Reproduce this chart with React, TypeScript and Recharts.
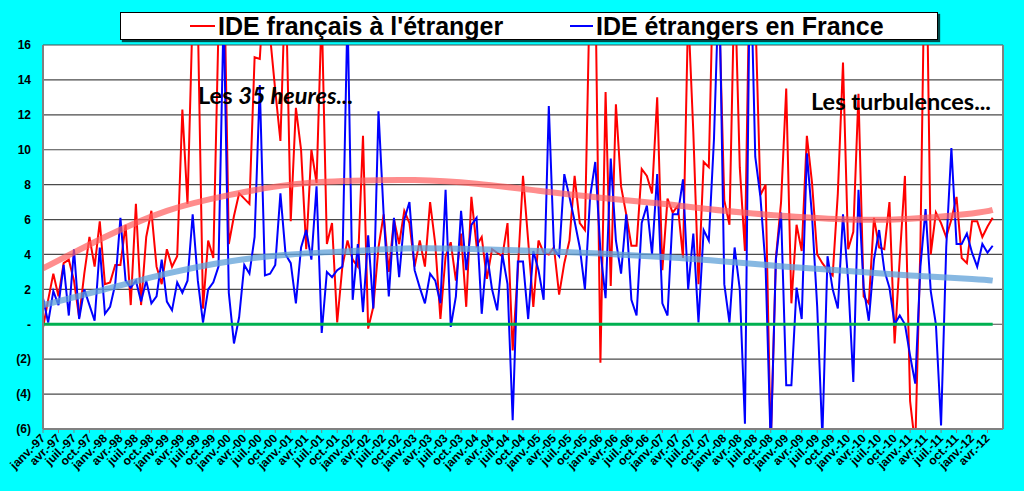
import React from 'react';
import { LineChart, Line, XAxis, YAxis, CartesianGrid, ReferenceLine } from 'recharts';

// monthly values, janv.-97 .. mai-12 (index 0 = janv.-97)
const IDE_FR_ETRANGER = [
  -0.2, 1.4, 2.9, 1.6, 3.5, 3.7, 2.5, 0.4, 2.9, 5.0, 3.3, 5.9,
  2.3, 2.4, 3.4, 3.4, 5.7, 1.1, 6.9, 1.1, 5.0, 6.5, 3.3, 2.3,
  4.3, 3.3, 3.9, 12.3, 6.9, 18, 17.5, 0.9, 4.8, 3.8, 17, 22,
  4.6, 6.2, 7.5, 7.2, 6.9, 15.3, 15.2, 20, 16.5, 13.4, 10.5, 20,
  5.9, 12.4, 10.0, 4.3, 10.0, 8.1, 18, 4.6, 5.8, 0.1, 3.3, 4.8,
  3.7, 3.3, 10.8, -0.25, 1.0, 4.4, 6.3, 3.0, 6.0, 4.6, 6.5, 5.8,
  3.3, 4.8, 3.3, 7.0, 4.6, 0.3, 3.9, 4.7, 2.5, 5.2, 1.0, 7.3,
  4.5, 5.0, 2.6, 4.3, 4.1, 3.9, 5.8, -1.5, 3.1, 8.5, 4.8, 1.0,
  4.8, 4.1, 4.0, 4.4, 1.7, 3.5, 4.8, 8.5, 5.8, 5.4, 20, 20,
  -2.2, 13.3, 2.2, 12.6, 7.9, 6.3, 4.5, 4.5, 8.9, 8.5, 7.5, 13.0,
  3.1, 7.2, 6.4, 6.8, 3.8, 18, 11, 2.3, 9.3, 9.0, 22, 18,
  7.1, 5.7, 20, 9, 4.2, 22, 18, 7.4, 8.0, -7, 3.8, 7.0,
  13.5, 1.2, 5.7, 4.2, 10.8, 8.1, 4.0, 3.5, 3.1, 2.8, 7.5, 15.0,
  4.3, 5.3, 13.2, 1.6, 1.2, 6.1, 4.4, 4.3, 7.0, -1.1, 3.8, 8.5,
  -4.4, -7, 4.5, 25, 4.0, 6.4, 5.8, 5.0, 6.0, 7.3, 3.8, 3.5,
  5.9, 5.9, 5.0, 5.6, 6.1,
];

const IDE_ETR_FRANCE = [
  1.5, 0.1, 1.9, 1.1, 3.4, 0.5, 4.3, 0.3, 2.0, 1.1, 0.2, 4.4,
  0.6, 1.0, 2.3, 6.1, 2.5, 2.1, 2.5, 1.3, 2.5, 1.2, 1.6, 3.7,
  1.3, 0.8, 2.4, 1.8, 2.5, 6.3, 2.5, 0.1, 2.0, 2.4, 3.3, 18,
  1.8, -1.1, 0.4, 3.4, 2.9, 5.0, 13.7, 2.8, 2.9, 3.4, 7.5, 4.0,
  3.5, 1.2, 4.4, 5.4, 3.7, 7.9, -0.5, 3.0, 2.7, 3.1, 3.3, 18,
  1.4, 4.6, 0.7, 5.1, 0.9, 12.2, 6.3, 1.6, 6.1, 2.7, 6.0, 7.0,
  3.1, 2.1, 1.2, 2.9, 2.5, 1.2, 7.7, -0.15, 1.6, 6.5, 3.1, 5.7,
  6.1, 0.6, 4.1, 2.0, 0.8, 4.0, 2.3, -5.5, 3.6, 3.6, 0.3, 4.2,
  3.1, 1.4, 12.5, 4.3, 3.9, 8.6, 7.3, 5.9, 4.4, 2.0, 7.3, 9.3,
  4.2, 1.5, 9.5, 4.8, 2.9, 6.3, 1.4, 0.5, 5.8, 6.8, 4.0, 8.6,
  1.2, 0.5, 6.3, 6.3, 8.3, 2.0, 5.2, 0.1, 5.4, 4.8, 10.6, 20,
  2.3, 0.1, 4.4, 2.0, -5.7, 22, 9.6, 7.3, 3.3, -7, 3.7, 6.4,
  -3.5, -3.5, 2.1, 0.3, 9.8, 6.2, 1.0, -6.5, 3.9, 2.0, 0.9, 6.3,
  2.5, -3.3, 7.7, 2.1, 0.2, 3.7, 5.4, 3.1, 2.1, 0.0, 0.5, 0.0,
  -1.8, -3.4, 3.3, 6.6, 1.9, 0.0, -5.8, 4.4, 10.1, 4.6, 4.6, 5.2,
  4.1, 3.3, 4.6, 4.1, 4.5,
];

// trend curves, read at the start of each year
const TREND_MONTHS = [0, 12, 24, 36, 48, 60, 72, 84, 96, 108, 120, 132, 144, 156, 168, 180, 184];
const FR_TREND = [3.2, 5.0, 6.5, 7.4, 8.0, 8.22, 8.26, 8.05, 7.65, 7.25, 6.9, 6.5, 6.2, 6.0, 6.05, 6.35, 6.55];
const ETR_TREND = [1.1, 2.0, 2.9, 3.6, 4.0, 4.2, 4.35, 4.3, 4.2, 4.05, 3.85, 3.6, 3.3, 3.05, 2.8, 2.6, 2.5];

const X_TICK_LABELS = [
  'janv.-97', 'avr.-97', 'juil.-97', 'oct.-97', 'janv.-98', 'avr.-98', 'juil.-98', 'oct.-98',
  'janv.-99', 'avr.-99', 'juil.-99', 'oct.-99', 'janv.-00', 'avr.-00', 'juil.-00', 'oct.-00',
  'janv.-01', 'avr.-01', 'juil.-01', 'oct.-01', 'janv.-02', 'avr.-02', 'juil.-02', 'oct.-02',
  'janv.-03', 'avr.-03', 'juil.-03', 'oct.-03', 'janv.-04', 'avr.-04', 'juil.-04', 'oct.-04',
  'janv.-05', 'avr.-05', 'juil.-05', 'oct.-05', 'janv.-06', 'avr.-06', 'juil.-06', 'oct.-06',
  'janv.-07', 'avr.-07', 'juil.-07', 'oct.-07', 'janv.-08', 'avr.-08', 'juil.-08', 'oct.-08',
  'janv.-09', 'avr.-09', 'juil.-09', 'oct.-09', 'janv.-10', 'avr.-10', 'juil.-10', 'oct.-10',
  'janv.-11', 'avr.-11', 'juil.-11', 'oct.-11', 'janv.-12', 'avr.-12',
];
const X_TICKS = X_TICK_LABELS.map((_, k) => k * 3);

const Y_TICKS = [-6, -4, -2, 0, 2, 4, 6, 8, 10, 12, 14, 16];
const Y_TICK_LABELS = ['(6)', '(4)', '(2)', '-', '2', '4', '6', '8', '10', '12', '14', '16'];

const data = IDE_FR_ETRANGER.map((fr, i) => {
  const t = TREND_MONTHS.indexOf(i);
  return {
    i,
    fr,
    etr: IDE_ETR_FRANCE[i],
    frTrend: t >= 0 ? FR_TREND[t] : null,
    etrTrend: t >= 0 ? ETR_TREND[t] : null,
  };
});

const AXIS_FONT = '"Liberation Sans", Arial, sans-serif';
const NOTE_FONT = 'Lato, "Open Sans", sans-serif';

const XTick = (props: any) => {
  const { x, y, payload } = props;
  const label = X_TICK_LABELS[Math.round(payload.value / 3)];
  return (
    <text
      x={x + 3}
      y={y + 4}
      transform={`rotate(-45 ${x + 3} ${y + 4})`}
      textAnchor="end"
      fontSize={12}
      fontWeight="bold"
      fontFamily={AXIS_FONT}
      fill="#000"
    >
      {label}
    </text>
  );
};

const legendText: React.CSSProperties = {
  position: 'absolute',
  top: 12,
  height: 28,
  display: 'flex',
  alignItems: 'center',
  fontFamily: AXIS_FONT,
  fontWeight: 'bold',
  fontSize: 25,
  color: '#000',
  whiteSpace: 'nowrap',
};

const noteText: React.CSSProperties = {
  position: 'absolute',
  fontFamily: NOTE_FONT,
  fontWeight: 'bold',
  fontSize: 23.5,
  color: '#000',
  whiteSpace: 'nowrap',
};

export default function App() {
  return (
    <div style={{ position: 'fixed', left: 0, top: 0, width: 1024, height: 491, background: '#00FFFF', overflow: 'hidden' }}>
      <LineChart width={1024} height={491} data={data} margin={{ top: 45, right: 21, bottom: 0, left: 0 }}>
        <CartesianGrid vertical={false} stroke="#4a4a4a" strokeWidth={1.2} fill="#FFFFFF" fillOpacity={1} />
        <XAxis
          dataKey="i"
          type="number"
          domain={[0, 186]}
          ticks={X_TICKS}
          interval={0}
          height={62}
          tick={<XTick />}
          tickSize={4}
          tickMargin={2}
          stroke="#808080"
          axisLine={{ stroke: '#808080', strokeWidth: 2 }}
          tickLine={{ stroke: '#808080' }}
          allowDataOverflow
        />
        <YAxis
          domain={[-6, 16]}
          ticks={Y_TICKS}
          interval={0}
          width={43}
          allowDataOverflow
          tickLine={false}
          tickSize={6}
          tickMargin={6}
          axisLine={{ stroke: '#808080', strokeWidth: 2 }}
          tickFormatter={(v: number) => Y_TICK_LABELS[Y_TICKS.indexOf(v)]}
          tick={{ fontSize: 12, fontWeight: 'bold', fill: '#000', fontFamily: AXIS_FONT }}
        />
        <ReferenceLine x={186} stroke="#808080" strokeWidth={2} />
        <Line dataKey="fr" stroke="#FF0000" strokeWidth={2} dot={false} isAnimationActive={false} />
        <Line dataKey="etr" stroke="#0000FF" strokeWidth={2} dot={false} isAnimationActive={false} />
        <Line
          dataKey="frTrend"
          type="natural"
          connectNulls
          stroke="#FF5C5C"
          strokeOpacity={0.7}
          strokeWidth={6}
          dot={false}
          isAnimationActive={false}
        />
        <Line
          dataKey="etrTrend"
          type="natural"
          connectNulls
          stroke="#5FA0D8"
          strokeOpacity={0.75}
          strokeWidth={6}
          dot={false}
          isAnimationActive={false}
        />
        <ReferenceLine
          segment={[{ x: 0, y: 0 }, { x: 184, y: 0 }]}
          stroke="#00B050"
          strokeWidth={3}
        />
      </LineChart>

      {/* legend */}
      <div
        style={{
          position: 'absolute',
          left: 120,
          top: 12,
          width: 818,
          height: 28,
          background: '#fff',
          border: '1px solid #000',
          boxShadow: '2px 2px 1px rgba(0,0,0,0.7)',
          boxSizing: 'border-box',
        }}
      />
      <div style={{ ...legendText, left: 190 }}>
        <span style={{ display: 'inline-block', width: 25, height: 2, background: '#FF0000', marginRight: 3 }} />
        IDE français à l'étranger
      </div>
      <div style={{ ...legendText, left: 570 }}>
        <span style={{ display: 'inline-block', width: 23, height: 2, background: '#0000FF', marginRight: 3 }} />
        IDE étrangers en France
      </div>

      {/* annotations */}
      <div style={{ ...noteText, left: 198, top: 81 }}>
        Les <i>35 heures...</i>
      </div>
      <div style={{ ...noteText, left: 811, top: 87 }}>
        Les turbulences...
      </div>
    </div>
  );
}
